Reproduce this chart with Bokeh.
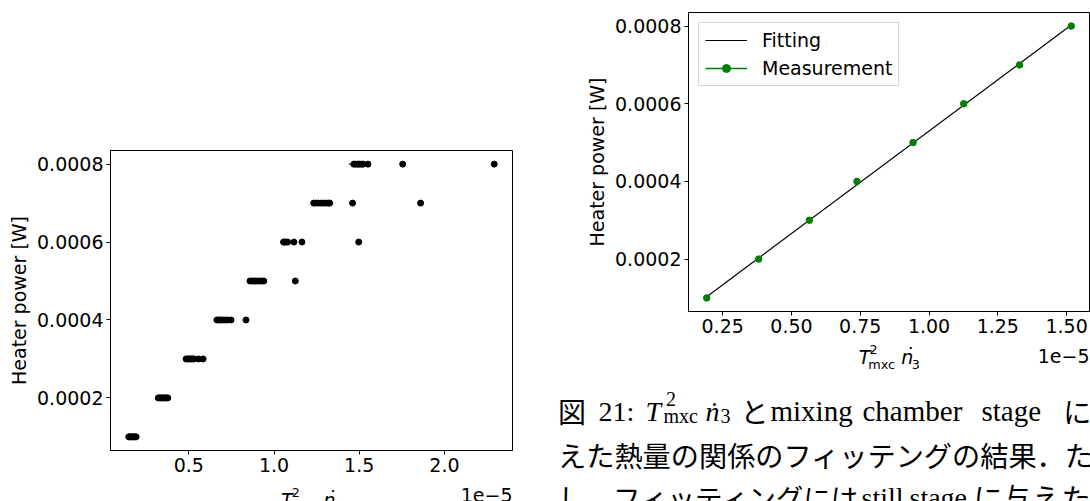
import numpy as np
from bokeh.plotting import figure
from bokeh.models import (Range1d, FixedTicker, PrintfTickFormatter, Label,
                          Legend, LegendItem, ColumnDataSource)
from bokeh.layouts import row, column
from bokeh.embed import file_html
from bokeh.resources import INLINE

# ---------------- data ----------------
# Left panel: all scans, x in units of 1e-5 (T_mxc^2 * n3dot), heater power in W
power_levels = [0.0001, 0.0002, 0.0003, 0.0004, 0.0005, 0.0006, 0.0007, 0.0008]
x_at_100uW = [0.148, 0.155, 0.162, 0.170, 0.178, 0.185, 0.191]
x_at_200uW = [0.321, 0.330, 0.338, 0.346, 0.355, 0.363, 0.371, 0.377]
x_at_300uW = [0.484, 0.492, 0.500, 0.508, 0.516, 0.524, 0.530, 0.557, 0.584]
x_at_400uW = [0.665, 0.675, 0.685, 0.695, 0.710, 0.726, 0.748, 0.836]
x_at_500uW = [0.859, 0.870, 0.880, 0.892, 0.905, 0.918, 0.930, 0.940, 1.125]
x_at_600uW = [1.056, 1.062, 1.070, 1.080, 1.117, 1.164, 1.497]
x_at_700uW = [1.233, 1.245, 1.260, 1.275, 1.290, 1.305, 1.318, 1.327, 1.461, 1.860]
x_at_800uW = [1.468, 1.478, 1.490, 1.500, 1.512, 1.523, 1.551, 1.755, 2.292]
xerr_at_800uW = [0.030, 0.0, 0.0, 0.0, 0.0, 0.0, 0.0, 0.0, 0.0]

# Right panel: averaged measurement and linear fit
meas_x = [0.192, 0.381, 0.565, 0.738, 0.942, 1.126, 1.329, 1.517]
meas_power = [0.0001, 0.0002, 0.0003, 0.0004, 0.0005, 0.0006, 0.0007, 0.0008]
meas_xerr = [0.004, 0.004, 0.004, 0.004, 0.004, 0.004, 0.004, 0.004]

left_xticks = [0.5, 1.0, 1.5, 2.0]
right_xticks = [0.25, 0.50, 0.75, 1.00, 1.25, 1.50]
power_ticks = [0.0002, 0.0004, 0.0006, 0.0008]
offset_text = "1e\u22125"
ylabel = "Heater power [W]"

caption_line2 = "えた熱量の関係のフィッテングの結果．た"
caption_line3a = "し．フィッティングには"
caption_line3b = "に与えた"

# ---------------- helpers ----------------
groups = [x_at_100uW, x_at_200uW, x_at_300uW, x_at_400uW,
          x_at_500uW, x_at_600uW, x_at_700uW, x_at_800uW]
left_x, left_y, left_err = [], [], []
for lvl, xs in zip(power_levels, groups):
    left_x += xs
    left_y += [lvl] * len(xs)
    left_err += xerr_at_800uW if xs is x_at_800uW else [0.0] * len(xs)
left_x = np.array(left_x); left_y = np.array(left_y); left_err = np.array(left_err)


def padded(lo, hi, frac=0.05):
    d = (hi - lo) * frac
    return Range1d(lo - d, hi + d)


FONT = "DejaVu Sans"
FS = "19px"
SUB = "12.8px"


def style(p, xticks, xfmt):
    p.grid.visible = False
    p.outline_line_color = "black"
    p.outline_line_width = 1
    p.outline_line_alpha = 1
    p.background_fill_color = "white"
    p.border_fill_color = "white"
    p.xaxis.ticker = FixedTicker(ticks=xticks)
    p.xaxis.formatter = PrintfTickFormatter(format=xfmt)
    p.yaxis.ticker = FixedTicker(ticks=power_ticks)
    p.yaxis.formatter = PrintfTickFormatter(format="%.4f")
    for ax in (p.xaxis[0], p.yaxis[0]):
        ax.major_tick_out = 4
        ax.major_tick_in = 0
        ax.minor_tick_out = 0
        ax.minor_tick_in = 0
        ax.axis_line_color = "black"
        ax.major_tick_line_color = "black"
        ax.major_label_text_font = FONT
        ax.major_label_text_font_size = FS
        ax.major_label_text_color = "black"
        ax.major_label_standoff = 3
    ya = p.yaxis[0]
    ya.axis_label = ylabel
    ya.axis_label_text_font = FONT
    ya.axis_label_text_font_size = FS
    ya.axis_label_text_font_style = "normal"
    ya.axis_label_text_color = "black"
    ya.axis_label_standoff = 4


def text_fig(w, h, xr, yr, bl=0, br=0):
    f = figure(width=w, height=h, output_backend="svg", toolbar_location=None,
               x_axis_location=None, y_axis_location=None,
               x_range=Range1d(*xr), y_range=Range1d(*yr),
               min_border_left=bl, min_border_right=br,
               min_border_top=0, min_border_bottom=0)
    f.grid.visible = False
    f.outline_line_color = None
    f.background_fill_color = "white"
    f.border_fill_color = "white"
    return f


def put(f, text, x, y, font, size, style="normal", align="left"):
    f.add_layout(Label(x=x, y=y, text=text, text_font=font, text_font_size=size,
                       text_font_style=style, text_color="black",
                       text_align=align, text_baseline="alphabetic"))


def xlabel(f, s, yb, right_edge, yoff, sub_drop=7):
    # T^2_mxc n3dot, page pixels (y downwards)
    put(f, "T", s, yb, FONT, FS, "italic")
    put(f, "2", s + 10.7, yb - 7.5, FONT, SUB)
    put(f, "mxc", s + 9.5, yb + sub_drop, FONT, SUB)
    put(f, "n", s + 42.5, yb, FONT, FS, "italic")
    put(f, "\u02d9", s + 52, yb - 2, FONT, FS, align="center")
    put(f, "3", s + 53, yb + sub_drop, FONT, SUB)
    put(f, offset_text, right_edge, yoff, FONT, FS, align="right")


# ---------------- left figure ----------------
left = figure(width=545, height=480, output_backend="svg", toolbar_location=None,
              x_range=padded(left_x.min(), left_x.max()),
              y_range=padded(min(power_levels), max(power_levels)),
              min_border_left=110, min_border_right=33, min_border_top=150,
              min_border_bottom=30)
style(left, left_xticks, "%.1f")
src_l = ColumnDataSource(dict(x=left_x, y=left_y, x0=left_x - left_err, x1=left_x + left_err))
left.segment(x0="x0", x1="x1", y0="y", y1="y", source=src_l, line_color="black", line_width=1)
left.scatter(x="x", y="y", source=src_l, size=6, color="black")

ltext = text_fig(545, 21, (110, 512), (501, 480), bl=110, br=33)
xlabel(ltext, 280.5, 499, 512, 494, sub_drop=6)

# ---------------- right figure ----------------
mx = np.array(meas_x); mp = np.array(meas_power); me = np.array(meas_xerr)
coef = np.polyfit(mx, mp, 1)
fit_x = np.array([mx[0], mx[-1]])
fit_y = np.polyval(coef, fit_x)

right = figure(width=545, height=340, output_backend="svg", toolbar_location=None,
               x_range=padded(mx.min(), mx.max()),
               y_range=padded(mp.min(), mp.max()),
               min_border_left=143, min_border_right=1, min_border_top=12,
               min_border_bottom=29)
style(right, right_xticks, "%.2f")
r_fit = right.line(fit_x, fit_y, line_color="black", line_width=1.2)
r_err = right.segment(x0=mx - me, x1=mx + me, y0=mp, y1=mp, line_color="green", line_width=1.5)
r_pts = right.scatter(mx, mp, size=6.5, color="green")
legend = Legend(items=[LegendItem(label="Fitting", renderers=[r_fit]),
                       LegendItem(label="Measurement", renderers=[r_err, r_pts])],
                location="top_left", margin=10, padding=6, spacing=6,
                glyph_width=42, glyph_height=20, label_standoff=15,
                label_text_font=FONT, label_text_font_size=FS, label_text_color="black",
                border_line_color="#cccccc", border_line_alpha=0.8,
                background_fill_alpha=0.8)
right.add_layout(legend)

# ---------------- right x label + caption (page pixel coordinates) ----------------
cap = text_fig(545, 161, (545, 1090), (501, 340))
xlabel(cap, 858.3, 356.7, 1089, 355)

SERIF = "Liberation Serif"
CJK = "Noto Sans CJK JP"
B1, B2, B3 = 410.5, 453.5, 496.5

put(cap, "図", 557.5, B1, CJK, "28px")
put(cap, "21:", 597.9, B1, SERIF, "28px")
put(cap, "T", 645, B1, SERIF, "28px", "italic")
put(cap, "2", 665.5, B1 - 12, SERIF, "20px")
put(cap, "mxc", 663, B1 + 5, SERIF, "20px")
put(cap, "n", 705, B1, SERIF, "28px", "italic")
put(cap, "\u02d9", 714, B1, SERIF, "28px", align="center")
put(cap, "3", 720, B1 + 5, SERIF, "20px")
put(cap, "と", 740, B1, CJK, "28px")
put(cap, "mixing", 770, B1, SERIF, "29px")
put(cap, "chamber", 862, B1, SERIF, "29px")
put(cap, "stage", 981, B1, SERIF, "29px")
put(cap, "に", 1062.8, B1, CJK, "28px")
put(cap, caption_line2, 557.5, B2, CJK, "28.2px")
put(cap, caption_line3a, 557.5, B3, CJK, "27.5px")
put(cap, "still", 861, B3, SERIF, "28px")
put(cap, "stage", 909, B3, SERIF, "28px")
put(cap, caption_line3b, 973, B3, CJK, "29.3px")

left_col = column(left, row(ltext))
right_col = column(right, row(cap))
layout = row(left_col, right_col)
open("out.html", "w").write(file_html(layout, INLINE))
